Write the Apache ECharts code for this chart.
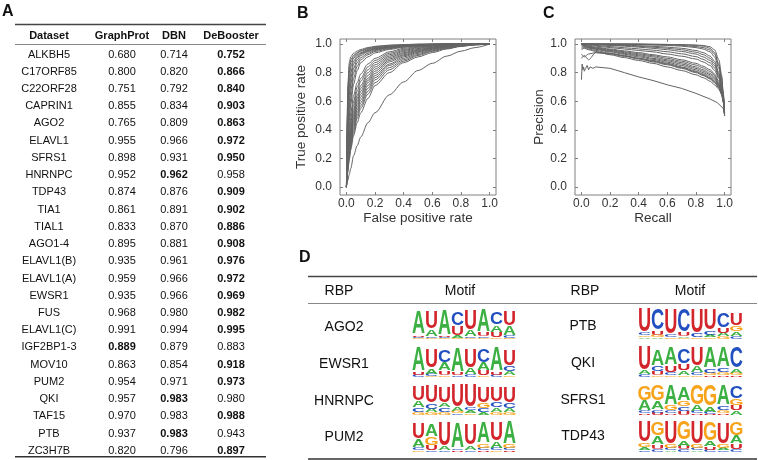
<!DOCTYPE html>
<html><head><meta charset="utf-8">
<script src="https://cdn.jsdelivr.net/npm/echarts@6/dist/echarts.min.js"></script>
<style>html,body{margin:0;padding:0;background:#fff}#c{width:758px;height:460px}</style>
</head><body><div id="c"></div>
<script>
// ---------- Panel A table ----------
const tableHeaders = ['Dataset', 'GraphProt', 'DBN', 'DeBooster'];
const datasets = ['ALKBH5','C17ORF85','C22ORF28','CAPRIN1','AGO2','ELAVL1','SFRS1','HNRNPC','TDP43','TIA1','TIAL1','AGO1-4','ELAVL1(B)','ELAVL1(A)','EWSR1','FUS','ELAVL1(C)','IGF2BP1-3','MOV10','PUM2','QKI','TAF15','PTB','ZC3H7B'];
const graphProt = [0.680,0.800,0.751,0.855,0.765,0.955,0.898,0.952,0.874,0.861,0.833,0.895,0.935,0.959,0.935,0.968,0.991,0.889,0.863,0.954,0.957,0.970,0.937,0.820];
const dbn = [0.714,0.820,0.792,0.834,0.809,0.966,0.931,0.962,0.876,0.891,0.870,0.881,0.961,0.966,0.966,0.980,0.994,0.879,0.854,0.971,0.983,0.983,0.983,0.796];
const deBooster = [0.752,0.866,0.840,0.903,0.863,0.972,0.950,0.958,0.909,0.902,0.886,0.908,0.976,0.972,0.969,0.982,0.995,0.883,0.918,0.973,0.980,0.988,0.943,0.897];

// ---------- Panel B (ROC) ----------
const axisTicks = [0, 0.2, 0.4, 0.6, 0.8, 1.0];
const rocFpr = [0, .005, .01, .02, .03, .05, .075, .1, .15, .2, .3, .4, .5, .6, .7, .8, .9, 1];
const rocTpr = [
  [0,.50,.72,.87,.91,.935,.95,.962,.975,.984,.992,.996,.999,1,1,1,1,1],
  [0,.45,.68,.84,.89,.92,.94,.955,.97,.98,.99,.995,.998,1,1,1,1,1],
  [0,.40,.62,.80,.87,.91,.935,.95,.965,.975,.985,.992,.996,.998,1,1,1,1],
  [0,.35,.55,.75,.84,.90,.925,.94,.96,.972,.983,.99,.995,.998,1,1,1,1],
  [0,.30,.50,.70,.80,.88,.915,.935,.955,.968,.98,.988,.994,.997,.999,1,1,1],
  [0,.25,.45,.65,.76,.86,.905,.93,.95,.965,.978,.986,.993,.997,.999,1,1,1],
  [0,.22,.40,.60,.72,.83,.89,.92,.945,.96,.975,.985,.992,.996,.999,1,1,1],
  [0,.20,.36,.55,.67,.80,.87,.905,.935,.955,.972,.983,.99,.995,.998,1,1,1],
  [0,.18,.32,.50,.62,.76,.845,.89,.925,.948,.968,.98,.988,.994,.998,1,1,1],
  [0,.16,.30,.47,.58,.72,.815,.87,.91,.938,.962,.977,.987,.993,.997,1,1,1],
  [0,.15,.27,.42,.52,.64,.73,.79,.86,.90,.945,.97,.982,.99,.995,.998,1,1],
  [0,.13,.24,.38,.48,.60,.70,.76,.84,.885,.935,.962,.978,.987,.993,.997,1,1],
  [0,.12,.22,.35,.45,.57,.67,.74,.82,.87,.925,.955,.973,.984,.991,.996,.999,1],
  [0,.11,.20,.33,.42,.54,.64,.71,.80,.855,.915,.948,.968,.98,.989,.995,.999,1],
  [0,.10,.19,.31,.40,.52,.62,.69,.78,.84,.905,.94,.962,.976,.987,.994,.998,1],
  [0,.10,.18,.29,.38,.50,.60,.67,.76,.825,.895,.933,.957,.973,.985,.993,.998,1],
  [0,.09,.17,.28,.36,.48,.58,.65,.745,.81,.885,.925,.952,.97,.983,.992,.997,1],
  [0,.09,.16,.26,.34,.46,.56,.63,.73,.795,.875,.918,.947,.967,.981,.991,.997,1],
  [0,.08,.15,.25,.33,.44,.54,.61,.71,.78,.86,.91,.942,.963,.979,.99,.996,1],
  [0,.08,.14,.24,.31,.42,.52,.59,.69,.765,.85,.90,.935,.958,.976,.988,.996,1],
  [0,.07,.13,.22,.29,.40,.50,.57,.67,.75,.835,.89,.927,.953,.972,.986,.995,1],
  [0,.07,.12,.21,.28,.38,.48,.55,.65,.73,.82,.88,.92,.948,.969,.985,.995,1],
  [0,.06,.11,.19,.26,.36,.45,.52,.62,.71,.80,.87,.91,.94,.965,.983,.994,1],
  [0,.03,.05,.09,.13,.22,.29,.35,.45,.52,.645,.735,.815,.865,.915,.95,.975,1]
];

// ---------- Panel C (precision-recall) ----------
const prRecall = [0, .02, .05, .1, .2, .3, .4, .5, .6, .7, .8, .85, .9, .93, .96, .98, .99, 1];
const prPrecision = [
  [1,1,1,1,1,1,.999,.998,.997,.996,.993,.99,.98,.96,.89,.78,.67,.53],
  [1,1,1,1,1,.999,.998,.996,.994,.99,.982,.975,.958,.93,.85,.75,.65,.51],
  [1,1,1,1,1,1,1,.998,.997,.995,.99,.985,.97,.94,.86,.76,.66,.52],
  [1,1,1,1,.998,.997,.995,.993,.99,.985,.975,.965,.945,.91,.83,.73,.64,.51],
  [1,1,.999,.997,.993,.989,.984,.978,.97,.96,.943,.926,.90,.865,.79,.705,.625,.52],
  [1,1,1,.998,.995,.992,.988,.984,.978,.97,.955,.94,.915,.88,.80,.71,.63,.52],
  [1,1,.998,.995,.99,.985,.978,.97,.96,.948,.93,.91,.885,.85,.78,.70,.62,.51],
  [1,.998,.995,.99,.982,.974,.966,.957,.946,.932,.912,.893,.868,.833,.77,.695,.62,.51],
  [1,.995,.99,.985,.975,.965,.955,.945,.93,.915,.895,.875,.85,.815,.76,.69,.62,.52],
  [1,.99,.985,.978,.965,.952,.94,.925,.91,.89,.865,.845,.82,.79,.74,.68,.61,.50],
  [1,.99,.982,.973,.96,.946,.932,.918,.90,.88,.853,.833,.808,.78,.73,.675,.61,.50],
  [1,.985,.978,.97,.955,.94,.925,.91,.89,.87,.84,.82,.795,.77,.72,.67,.61,.51],
  [.99,.985,.975,.966,.95,.934,.918,.90,.882,.86,.83,.81,.785,.76,.715,.665,.605,.50],
  [.98,.98,.972,.962,.945,.928,.91,.893,.873,.85,.82,.80,.775,.75,.71,.66,.60,.50],
  [.97,.975,.965,.955,.935,.915,.895,.875,.855,.83,.80,.78,.755,.73,.695,.65,.60,.50],
  [.96,.97,.96,.948,.925,.905,.885,.865,.84,.815,.785,.765,.74,.715,.685,.645,.60,.51],
  [.93,.91,.93,.94,.93,.915,.90,.88,.86,.835,.805,.785,.76,.735,.70,.655,.60,.50],
  [.90,.92,.89,.94,.935,.92,.90,.885,.865,.84,.81,.79,.765,.74,.705,.66,.61,.52]
];
const prLowRecall = [0, .005, .01, .015, .02, .03, .04, .05, .06, .07, .08, .1, .15, .2, .3, .4, .5, .6, .7, .8, .9, .95, 1];
const prLowPrecision = [.75, .86, .82, .84, .81, .83, .85, .82, .84, .85, .83, .84, .835, .83, .80, .77, .745, .715, .69, .655, .615, .59, .54];

// ---------- Panel D (motifs) ----------
const motifHeaders = ['RBP', 'Motif', 'RBP', 'Motif'];
const rbpLeft = ['AGO2', 'EWSR1', 'HNRNPC', 'PUM2'];
const rbpRight = ['PTB', 'QKI', 'SFRS1', 'TDP43'];
// each position: letters from top to bottom with height in bits
const motifAGO2 = [[['A',1.53],['U',.12],['C',.1],['G',.05]],[['U',1.18],['A',.42],['C',.12],['G',.08]],[['A',1.65],['U',.1],['C',.08],['G',.05]],[['C',.9],['U',.63],['A',.2],['G',.05]],[['U',1.3],['A',.45],['C',.1],['G',.05]],[['A',1.48],['U',.25],['C',.12],['G',.05]],[['C',.82],['A',.47],['U',.35],['G',.1]],[['U',.95],['A',.63],['C',.15],['G',.07]]];
const motifEWSR1 = [[['A',1.55],['U',.2],['C',.15]],[['U',1.2],['A',.35],['C',.15],['G',.05]],[['C',.8],['A',.55],['U',.3],['G',.1]],[['A',1.6],['U',.2],['C',.1]],[['U',1.25],['A',.4],['C',.15]],[['C',.85],['A',.5],['U',.35],['G',.1]],[['A',1.55],['U',.2],['C',.15]],[['U',1.1],['C',.35],['A',.3],['G',.1]]];
const motifHNRNPC = [[['U',1.0],['A',.4],['C',.3],['G',.2]],[['U',1.15],['C',.35],['A',.25],['G',.15]],[['U',1.1],['A',.3],['C',.3],['G',.2]],[['U',1.5],['A',.25],['G',.15],['C',.1]],[['U',1.5],['C',.2],['A',.2],['G',.1]],[['U',1.05],['G',.35],['C',.25],['A',.2]],[['U',1.0],['C',.35],['A',.3],['G',.2]],[['U',1.05],['C',.35],['A',.3],['G',.15]]];
const motifPUM2 = [[['U',1.1],['A',.55],['C',.2],['G',.1]],[['A',.8],['G',.55],['U',.35],['C',.1]],[['U',1.55],['A',.25],['C',.1]],[['A',1.7],['C',.1],['U',.1]],[['U',1.45],['A',.3],['C',.1]],[['A',1.4],['G',.3],['C',.15],['U',.1]],[['U',1.2],['A',.45],['C',.15],['G',.1]],[['A',1.5],['G',.25],['C',.15],['U',.1]]];
const motifPTB = [[['U',1.55],['C',.2],['G',.12],['A',.1]],[['C',1.4],['U',.3],['G',.15],['A',.1]],[['U',1.7],['C',.15],['G',.1]],[['C',1.5],['U',.3],['A',.1],['G',.05]],[['U',1.6],['C',.25],['G',.1]],[['U',1.4],['C',.3],['A',.15],['G',.1]],[['C',1.0],['U',.35],['A',.25],['G',.15]],[['U',.75],['G',.35],['A',.3],['C',.2]]];
const motifQKI = [[['U',1.6],['A',.25],['C',.15]],[['A',1.1],['C',.35],['U',.3],['G',.1]],[['A',1.15],['U',.45],['C',.2],['G',.1]],[['C',1.0],['U',.45],['A',.3],['G',.1]],[['U',1.2],['A',.4],['C',.2],['G',.1]],[['A',1.4],['C',.3],['G',.15],['U',.1]],[['A',1.35],['C',.3],['G',.2],['U',.1]],[['C',1.4],['A',.3],['G',.15],['U',.1]]];
const motifSFRS1 = [[['G',1.0],['A',.7],['C',.15],['U',.1]],[['G',1.05],['A',.55],['C',.2],['U',.15]],[['A',1.3],['G',.35],['C',.2],['U',.1]],[['A',.9],['G',.35],['C',.3],['U',.25]],[['G',1.3],['A',.4],['C',.15],['U',.1]],[['G',1.4],['A',.35],['C',.15],['U',.05]],[['A',1.35],['C',.3],['G',.2],['U',.1]],[['C',.8],['G',.4],['U',.35],['A',.3]]];
const motifTDP43 = [[['U',1.4],['G',.3],['A',.2],['C',.1]],[['G',.85],['A',.55],['U',.3],['C',.2]],[['U',1.5],['G',.25],['C',.15],['A',.1]],[['G',1.2],['A',.35],['U',.25],['C',.15]],[['U',1.5],['G',.25],['C',.15],['A',.1]],[['G',1.25],['A',.35],['U',.2],['C',.15]],[['U',1.45],['G',.25],['A',.15],['C',.1]],[['G',.9],['A',.5],['U',.35],['C',.2]]];
const motifsLeft = [motifAGO2, motifEWSR1, motifHNRNPC, motifPUM2];
const motifsRight = [motifPTB, motifQKI, motifSFRS1, motifTDP43];

// ---------- build ----------
const FONT = '"Liberation Sans", Arial, Helvetica, sans-serif';
const LETTERS = ['A', 'C', 'G', 'U'];
const LCOLORS = ['#3cb043', '#2350c0', '#f7a31c', '#d3262c'];
const CURVE = '#646464';
const FRAME = '#808080';

const graphic = [];
function txt(x, y, text, size, weight, align) {
  graphic.push({type: 'text', x: x, y: y, silent: true, style: {
    text: text, fill: '#111', font: (weight || 'normal') + ' ' + size + 'px ' + FONT,
    textAlign: align || 'center', align: align || 'center',
    textVerticalAlign: 'middle', verticalAlign: 'middle'}});
}
function hline(x1, x2, y, w, c) {
  graphic.push({type: 'line', silent: true, shape: {x1: x1, y1: y, x2: x2, y2: y}, style: {stroke: c, lineWidth: w}});
}
// panel letters
txt(2, 11.5, 'A', 16, 'bold', 'left');
txt(297, 14, 'B', 16, 'bold', 'left');
txt(543, 14, 'C', 16, 'bold', 'left');
txt(299, 257.5, 'D', 16, 'bold', 'left');

// table A
const colX = [49, 122, 174, 231];
hline(15, 266, 24.5, 1.4, '#444');
hline(15, 266, 44.5, 1, '#888');
hline(15, 266, 456.8, 1.6, '#333');
tableHeaders.forEach((h, j) => txt(colX[j], 35.5, h, 11, 'bold'));
datasets.forEach((d, i) => {
  const y = 54.5 + i * 17.23;
  const vals = [graphProt[i], dbn[i], deBooster[i]];
  const mx = Math.max.apply(null, vals);
  txt(colX[0], y, d, 11);
  vals.forEach((v, j) => txt(colX[j + 1], y, v.toFixed(3), 11, v === mx ? 'bold' : 'normal'));
});

// table D
const dColX = [339, 460, 585, 690];
const dRowY = [327, 364, 401.5, 437.5];
hline(308, 757, 276.5, 1.4, '#444');
hline(308, 757, 303.5, 1, '#888');
hline(308, 757, 459, 1.6, '#333');
motifHeaders.forEach((h, j) => txt(dColX[j], 291.5, h, 14));
rbpLeft.forEach((r, i) => txt(344, dRowY[i], r, 14));
rbpRight.forEach((r, i) => txt(583, dRowY[i] - 1, r, 14));

// grids & axes
const grids = [
  {left: 340, top: 39, width: 156, height: 156, show: true, borderColor: FRAME, borderWidth: 1, backgroundColor: 'transparent'},
  {left: 575, top: 39, width: 156, height: 156, show: true, borderColor: FRAME, borderWidth: 1, backgroundColor: 'transparent'}
];
const xAxes = [], yAxes = [];
const fmt = v => v.toFixed(1);
const blank = () => '';
function tickCfg() { return {show: true, inside: true, length: 3, customValues: axisTicks, lineStyle: {color: FRAME}}; }
const noLine = () => ({show: false, onZero: false});
function plotAxes(g, xname, yname, yGap) {
  xAxes.push({gridIndex: g, type: 'value', min: -0.045, max: 1.045, position: 'bottom',
    axisLine: noLine(), splitLine: {show: false}, axisTick: tickCfg(),
    axisLabel: {customValues: axisTicks, formatter: fmt, margin: 3, fontSize: 12, color: '#333', fontFamily: FONT},
    name: xname, nameLocation: 'middle', nameGap: 14, nameTextStyle: {fontSize: 13.5, color: '#333', fontFamily: FONT}});
  xAxes.push({gridIndex: g, type: 'value', min: -0.045, max: 1.045, position: 'top',
    axisLine: noLine(), splitLine: {show: false}, axisTick: tickCfg(),
    axisLabel: {show: false}});
  yAxes.push({gridIndex: g, type: 'value', min: -0.055, max: 1.035, position: 'left',
    axisLine: noLine(), splitLine: {show: false}, axisTick: tickCfg(),
    axisLabel: {customValues: axisTicks, formatter: fmt, margin: 8, fontSize: 12, color: '#333', fontFamily: FONT},
    name: yname, nameLocation: 'middle', nameGap: yGap, nameTextStyle: {fontSize: 13.5, color: '#333', fontFamily: FONT}});
  yAxes.push({gridIndex: g, type: 'value', min: -0.055, max: 1.035, position: 'right',
    axisLine: noLine(), splitLine: {show: false}, axisTick: tickCfg(),
    axisLabel: {show: false}});
}
plotAxes(0, 'False positive rate', 'True positive rate', 32);
plotAxes(1, 'Recall', 'Precision', 26);

const series = [];
function curve(xi, yi, xs, ys, smooth) {
  series.push({type: 'line', xAxisIndex: xi, yAxisIndex: yi, data: xs.map((x, k) => [x, ys[k]]),
    symbol: 'none', showSymbol: false, smooth: smooth, smoothMonotone: 'x', silent: true,
    lineStyle: {color: CURVE, width: 1}, clip: true});
}
rocTpr.forEach(t => curve(0, 0, rocFpr, t, 0.3));
prPrecision.forEach(p => curve(2, 2, prRecall, p, 0.3));
curve(2, 2, prLowRecall, prLowPrecision, false);

// motif logo grids
const logoTops = [309, 347, 385, 422];
function logoData(m) {
  const out = [];
  m.forEach((col, pos) => {
    let y = 0;
    col.slice().reverse().forEach(([l, h]) => { out.push([pos, y, h, LETTERS.indexOf(l)]); y += h; });
  });
  return out;
}
function addLogo(left, width, top, motif) {
  const gi = grids.length;
  grids.push({left: left, top: top, width: width, height: 30, show: false});
  xAxes.push({gridIndex: gi, type: 'value', min: 0, max: 8, show: false});
  yAxes.push({gridIndex: gi, type: 'value', min: 0, max: 2, show: false});
  series.push({type: 'custom', xAxisIndex: xAxes.length - 1, yAxisIndex: yAxes.length - 1, data: logoData(motif), clip: false, silent: true,
    renderItem: function (params, api) {
      const pos = api.value(0), y0 = api.value(1), h = api.value(2), li = api.value(3);
      const c = api.coord([pos + 0.5, y0 + h / 2]);
      const s = api.size([1, h]);
      const F = 20;
      return {type: 'text', x: c[0], y: c[1], scaleX: s[0] * 1.0 / (0.72 * F), scaleY: Math.max(s[1], 0.3) / (0.72 * F),
        style: {text: LETTERS[li], x: 0, y: 0.03 * F, fill: LCOLORS[li], font: 'bold ' + F + 'px ' + FONT,
          textAlign: 'center', align: 'center', textVerticalAlign: 'middle', verticalAlign: 'middle'}};
    }});
}
motifsLeft.forEach((m, i) => addLogo(412, 104, logoTops[i], m));
motifsRight.forEach((m, i) => addLogo(638, 105, logoTops[i], m));

const chart = echarts.init(document.getElementById('c'), null, {renderer: 'canvas'});
chart.setOption({
  animation: false,
  backgroundColor: '#fff',
  grid: grids, xAxis: xAxes, yAxis: yAxes, series: series, graphic: graphic
});
</script></body></html>
